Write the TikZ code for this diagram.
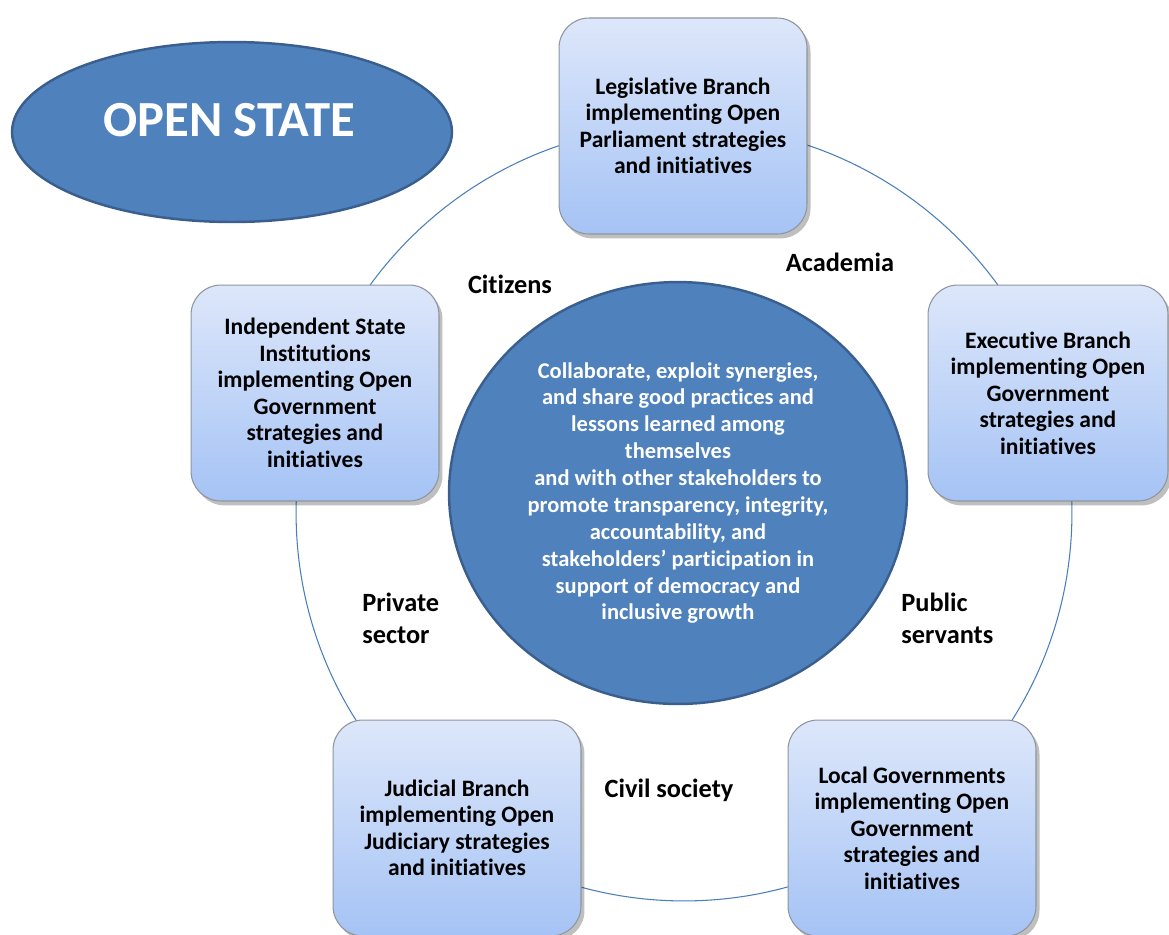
\documentclass[tikz,border=0pt]{standalone}
\usepackage{fontspec}
\setmainfont{Carlito}[Ligatures=NoCommon]
\usetikzlibrary{positioning, shapes.geometric, shadows}
\definecolor{osBlue}{HTML}{4F81BD}
\definecolor{osEdge}{HTML}{3A5F8E}
\definecolor{osRing}{HTML}{4A7EBB}
\definecolor{osTop}{HTML}{DDE7FA}
\definecolor{osBottom}{HTML}{A5C3F5}
\definecolor{osFrame}{HTML}{8E959E}
\tikzset{
  osbox/.style={rounded corners=17pt, draw=osFrame, line width=0.6pt,
    top color=osTop, bottom color=osBottom, minimum width=4.96cm,
    minimum height=4.32cm, align=center, text=black, inner sep=2pt,
    font=\fontsize{13.4}{15.1}\selectfont\bfseries,
    drop shadow={shadow xshift=2pt, shadow yshift=-2.5pt, opacity=0.25, fill=black}},
  oshub/.style={ellipse, draw=osEdge, line width=1.4pt, fill=osBlue,
    inner sep=0pt},
  osnote/.style={text=white, align=center,
    font=\fontsize{12.8}{15.3}\selectfont\bfseries},
  oslabel/.style={text=black, align=left, inner sep=0pt,
    font=\fontsize{15}{18.2}\selectfont\bfseries},
  osring/.style={draw=osRing, line width=0.6pt},
}

\begin{document}
\begin{tikzpicture}[x=0.02cm, y=-0.02cm]

  \useasboundingbox (0,0) rectangle (1169,934);
  \clip (0,0) rectangle (1169,934);

  % --- Ring through the five branches --------------------------------------
  \coordinate (ringc) at (684,513);
  \draw[osring] (ringc) circle [radius=7.76cm];

  % --- Title ---------------------------------------------------------------
  \node[oshub, minimum width=8.8cm, minimum height=3.6cm] (state) at (232,132) {};
  \node[text=white, font=\fontsize{28.8}{34}\selectfont\bfseries] (statetext)
        at (229,120) {OPEN STATE};

  % --- Hub in the middle ---------------------------------------------------
  \node[oshub, minimum width=9.16cm, minimum height=8.44cm] (hub) at (678,493) {};
  \node[osnote] (hubtext) at (678,493)
        {Collaborate, exploit synergies,\\
         and share good practices and\\
         lessons learned among\\
         themselves\\
         and with other stakeholders to\\
         promote transparency, integrity,\\
         accountability, and\\
         stakeholders' participation in\\
         support of democracy and\\
         inclusive growth};

  % --- Branches ------------------------------------------------------------
  \node[osbox]                    (leg)   at (683,126)
        {Legislative Branch\\implementing Open\\Parliament strategies\\and initiatives};
  \node[osbox, minimum width=4.8cm] (exe) at (1048,393)
        {Executive Branch\\implementing Open\\Government\\strategies and\\initiatives};
  \node[osbox]                    (local) at (912,828)
        {Local Governments\\implementing Open\\Government\\strategies and\\initiatives};
  \node[osbox]                    (jud)   at (457,828)
        {Judicial Branch\\implementing Open\\Judiciary strategies\\and initiatives};
  \node[osbox]                    (indep) at (315,393)
        {Independent State\\Institutions\\implementing Open\\Government\\strategies and\\initiatives};

  % --- Stakeholders between the branches -----------------------------------
  \node[oslabel]              (citizens) at (510,284) {Citizens};
  \node[oslabel]              (academia) at (840,262) {Academia};
  \node[oslabel, anchor=west] (public)   at (901,618) {Public\\servants};
  \node[oslabel, anchor=west] (private)  at (362,618) {Private\\sector};
  \node[oslabel]              (civil)    at (669,790) {Civil society};

\end{tikzpicture}
\end{document}
